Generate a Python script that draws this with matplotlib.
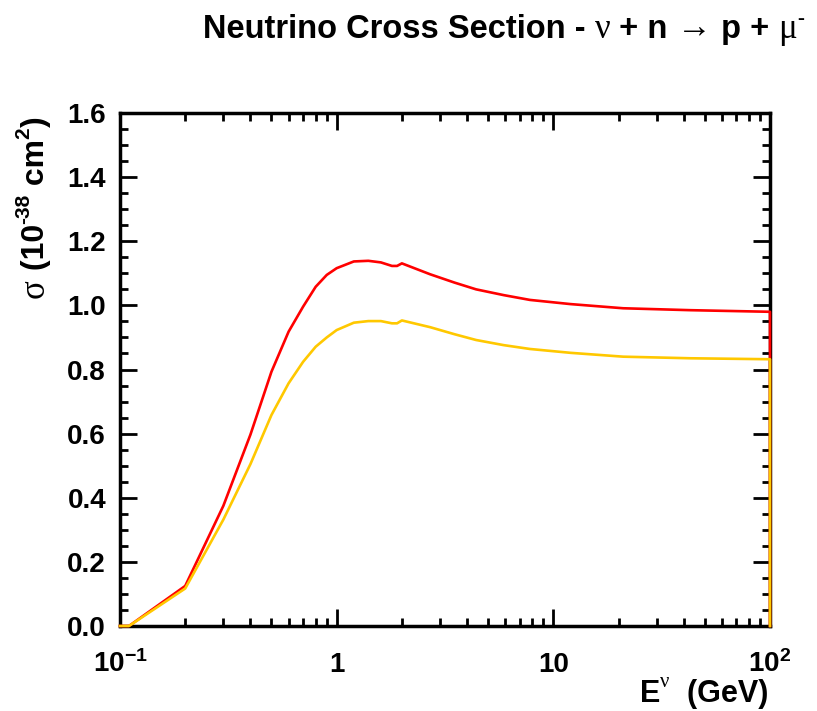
"""Neutrino CCQE cross section, nu + n -> p + mu-."""
import matplotlib
matplotlib.use('Agg')
import matplotlib.pyplot as plt
from matplotlib.ticker import FixedLocator, LogLocator, MultipleLocator, NullFormatter
from matplotlib.transforms import IdentityTransform

plt.rcParams.update({
    'font.family': ['Liberation Sans', 'DejaVu Sans'],
    'font.weight': 'bold',
    'mathtext.fontset': 'custom',
    'mathtext.rm': 'Liberation Sans:bold',
    'mathtext.bf': 'Liberation Sans:bold',
    'mathtext.default': 'rm',
})

# ---------- data ----------
energy = [0.1, 0.11, 0.2, 0.3, 0.4, 0.5, 0.6, 0.7, 0.8, 0.9, 1.0, 1.2, 1.4,
          1.6, 1.8, 1.9, 2.0, 2.7, 3.5, 4.4, 5.9, 7.8, 12, 21, 43, 100, 100]
sigma_red = [0, 0, 0.125, 0.375, 0.597, 0.793, 0.918, 0.996, 1.058, 1.095,
             1.116, 1.137, 1.139, 1.134, 1.123, 1.123, 1.131, 1.097, 1.071,
             1.050, 1.032, 1.017, 1.004, 0.991, 0.985, 0.980, 0]
sigma_gold = [0, 0, 0.117, 0.332, 0.505, 0.658, 0.757, 0.824, 0.871, 0.900,
              0.923, 0.946, 0.951, 0.951, 0.944, 0.944, 0.953, 0.932, 0.910,
              0.892, 0.876, 0.864, 0.852, 0.840, 0.835, 0.832, 0]

xticks = [0.1, 1, 10, 100]
xticklabels = ['$10^{-1}$', '1', '10', '$10^{2}$']
yticks = [0.0, 0.2, 0.4, 0.6, 0.8, 1.0, 1.2, 1.4, 1.6]

W, H = 817, 711
fig = plt.figure(figsize=(W / 100, H / 100), dpi=100)
ax = fig.add_axes([120 / W, 1 - 626 / H, 650 / W, 513 / H])

ax.plot(energy, sigma_red, color='#ff0000', lw=1.9, zorder=5, clip_on=False)
ax.plot(energy, sigma_gold, color='#ffc800', lw=1.9, zorder=6, clip_on=False)

ax.set_xscale('log')
ax.set_xlim(0.1, 100)
ax.set_ylim(0, 1.6)

for s in ax.spines.values():
    s.set_linewidth(2.5)

ax.xaxis.set_major_locator(FixedLocator(xticks))
ax.xaxis.set_minor_locator(LogLocator(base=10, subs=range(2, 10)))
ax.xaxis.set_major_formatter(NullFormatter())
ax.xaxis.set_minor_formatter(NullFormatter())
ax.yaxis.set_major_locator(FixedLocator(yticks))
ax.yaxis.set_minor_locator(MultipleLocator(0.05))
ax.set_yticklabels([f'{v:.1f}' for v in yticks])

ax.tick_params(which='both', direction='in', top=True, right=True, width=2)
ax.tick_params(which='major', length=12)
ax.tick_params(which='minor', length=6)
ax.tick_params(axis='y', which='major', labelsize=20, pad=10)

# x tick labels placed on a common baseline
for v, lab in zip(xticks, xticklabels):
    ax.text(v, -0.09, lab, transform=ax.get_xaxis_transform(), ha='center',
            va='baseline', fontsize=20, fontweight='bold')

renderer = fig.canvas.get_renderer()
BOLD = dict(family=['Liberation Sans'], fontweight='bold')
GREEK = dict(family=['Liberation Serif', 'DejaVu Serif'], fontweight='normal')


def chain(parts, x, y, rotate=False, end=False):
    """Lay text fragments end to end from pixel (x, y), y measured from the top.
    With end=True the chain finishes at (x, y) instead of starting there."""
    y = H - y
    texts, sizes = [], []
    for s, size, props, rise in parts:
        t = fig.text(0, 0, s, fontsize=size, ha='left', va='baseline',
                     rotation=90 if rotate else 0, rotation_mode='anchor',
                     transform=IdentityTransform(), **props)
        bb = t.get_window_extent(renderer)
        texts.append((t, rise))
        sizes.append(bb.height if rotate else bb.width)
    pos = (y if rotate else x) - (sum(sizes) if end else 0)
    for (t, rise), step in zip(texts, sizes):
        if rotate:
            t.set_position((x - rise, pos))
        else:
            t.set_position((pos, y + rise))
        pos += step


# title
chain([('Neutrino Cross Section - ', 23.5, BOLD, 0),
       ('\u03bd', 25, GREEK, 0),
       (' + n ', 23.5, BOLD, 0),
       ('\u2192', 25, GREEK, 0),
       (' p + ', 23.5, BOLD, 0),
       ('\u03bc', 25, GREEK, 0),
       ('-', 15, GREEK, 14)], 203, 38)

# x axis title
chain([('E', 22, BOLD, 0),
       ('\u03bd', 15, GREEK, 15),
       ('  (GeV)', 22, BOLD, 0)], 768, 702, end=True)

# y axis title
chain([('\u03c3', 25, GREEK, 0),
       (' (10', 23, BOLD, 0),
       ('-38', 15, BOLD, 15),
       (' cm', 23, BOLD, 0),
       ('2', 15, BOLD, 15),
       (')', 23, BOLD, 0)], 44, 298, rotate=True)

fig.savefig('out.png', dpi=100)
